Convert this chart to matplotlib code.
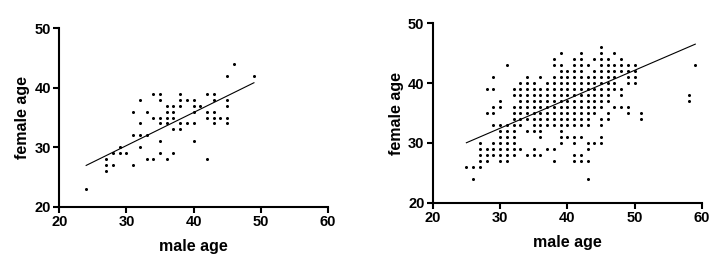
import numpy as np
import matplotlib.pyplot as plt

plt.rcParams['font.family'] = ['Liberation Sans', 'DejaVu Sans']

# Left panel: male age / female age pairs
male_a = [24, 27, 27, 27, 28, 28, 29, 29, 30, 31, 31, 31, 32, 32, 32, 32, 33, 33, 33,
          34, 34, 34, 35, 35, 35, 35, 35, 35, 36, 36, 36, 36, 36, 37, 37, 37, 37, 37,
          38, 38, 38, 38, 38, 39, 39, 40, 40, 40, 40, 40, 41, 42, 42, 42, 42,
          43, 43, 43, 43, 43, 44, 45, 45, 45, 45, 45, 46, 49]
female_a = [23, 26, 27, 28, 27, 29, 30, 29, 29, 27, 32, 36, 38, 34, 32, 30, 32, 36, 28,
            39, 35, 28, 39, 38, 35, 34, 31, 29, 37, 36, 35, 34, 28, 37, 36, 35, 33, 29,
            39, 38, 37, 34, 33, 38, 34, 38, 37, 36, 34, 31, 37, 39, 36, 35, 28,
            39, 38, 36, 35, 34, 35, 42, 38, 37, 35, 34, 44, 42]
fit_a = (0.556, 13.6)   # slope, intercept of the drawn trend line

# Right panel: female ages listed for each male age
cols_b = {
    25: [26],
    26: [26, 24],
    27: [26, 27, 28, 29, 30],
    28: [39, 35, 29, 28, 27],
    29: [41, 39, 36, 35, 33, 30, 29, 28],
    30: [37, 36, 33, 32, 31, 30, 29, 28, 27],
    31: [43, 33, 32, 31, 30, 29, 28, 27],
    32: [39, 38, 36, 35, 34, 33, 32, 31, 30, 29, 28],
    33: [40, 39, 38, 37, 36, 35, 34, 33, 29],
    34: [41, 40, 39, 38, 37, 36, 35, 34, 32, 28],
    35: [40, 39, 38, 37, 36, 35, 34, 33, 32, 29, 28],
    36: [41, 39, 38, 37, 36, 35, 34, 33, 32, 31, 28],
    37: [40, 39, 38, 37, 36, 35, 34, 33, 29],
    38: [44, 43, 41, 40, 39, 38, 37, 36, 35, 34, 33, 29, 27],
    39: [45, 43, 42, 41, 40, 39, 38, 37, 36, 35, 34, 33, 32, 31, 30],
    40: [42, 41, 40, 39, 38, 37, 36, 35, 34, 33, 31],
    41: [44, 43, 42, 41, 40, 39, 38, 37, 36, 35, 34, 33, 31, 30, 28, 27],
    42: [45, 44, 43, 42, 41, 40, 39, 38, 37, 36, 35, 34, 33, 31, 28, 27],
    43: [43, 41, 40, 39, 38, 37, 36, 35, 34, 33, 30, 29, 27, 24],
    44: [44, 42, 41, 40, 39, 38, 37, 36, 35, 30],
    45: [46, 45, 44, 43, 42, 41, 40, 39, 38, 37, 36, 34, 33, 31, 30],
    46: [44, 43, 42, 41, 40, 39, 38, 37, 35, 34],
    47: [45, 43, 42, 41, 40, 39, 36],
    48: [44, 43, 42, 39, 38, 36],
    49: [43, 42, 41, 40, 36, 35],
    50: [43, 42, 41, 40],
    51: [35, 34],
    58: [38, 37],
    59: [43],
}
male_b = [m for m, fs in cols_b.items() for f in fs]
female_b = [f for m, fs in cols_b.items() for f in fs]
fit_b = (0.485, 17.9)

fig = plt.figure(figsize=(7.2, 2.62), dpi=100)
ax1 = fig.add_axes([0.0824, 0.211, 0.3728, 0.681])
ax2 = fig.add_axes([0.601, 0.2263, 0.374, 0.6847])

for ax, mx, fy, fit in [(ax1, male_a, female_a, fit_a), (ax2, male_b, female_b, fit_b)]:
    mx = np.array(mx, dtype=float)
    fy = np.array(fy, dtype=float)
    ax.plot(mx, fy, 'o', color='black', markersize=2.2, markeredgewidth=0)
    k, b = fit
    xs = np.array([mx.min(), mx.max()])
    ax.plot(xs, k * xs + b, color='black', linewidth=0.8)
    ax.set_xlim(20, 60)
    ax.set_ylim(20, 50)
    ax.set_xticks([20, 30, 40, 50, 60])
    ax.set_yticks([20, 30, 40, 50])
    for s in ['top', 'right']:
        ax.spines[s].set_visible(False)
    for s in ['left', 'bottom']:
        ax.spines[s].set_linewidth(1.5)
    ax.tick_params(direction='out', length=4, width=1.5, labelsize=10.5, pad=2)
    for t in ax.get_xticklabels() + ax.get_yticklabels():
        t.set_fontweight('bold')
    ax.set_xlabel('male age', fontsize=11.5, fontweight='bold', labelpad=7)
    ax.set_ylabel('female age', fontsize=11.5, fontweight='bold', labelpad=3)

fig.savefig('out.png', dpi=100)
